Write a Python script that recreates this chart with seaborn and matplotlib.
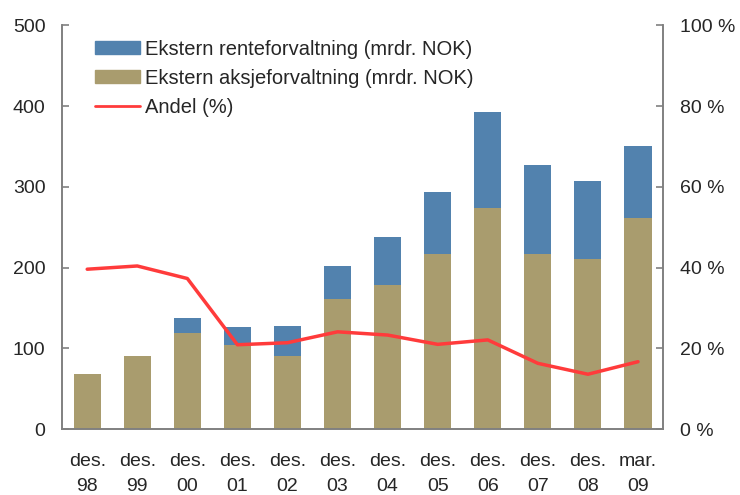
import numpy as np
import pandas as pd
import matplotlib
matplotlib.use("Agg")
import matplotlib.pyplot as plt
import seaborn as sns
from matplotlib.patches import Patch
from matplotlib.lines import Line2D
from matplotlib.ticker import FuncFormatter

# data
labels = ["des.\n98", "des.\n99", "des.\n00", "des.\n01", "des.\n02", "des.\n03",
          "des.\n04", "des.\n05", "des.\n06", "des.\n07", "des.\n08", "mar.\n09"]
aksje = [68, 90, 119, 104, 91, 161, 178, 217, 274, 217, 211, 262]
rente = [0, 0, 18, 22, 37, 41, 60, 77, 118, 110, 96, 88]
andel = [39.6, 40.4, 37.3, 20.9, 21.4, 24.1, 23.3, 21.0, 22.1, 16.3, 13.6, 16.7]

blue = "#5282AE"
khaki = "#A99C6E"
red = "#FF3B3B"
grey = "#808080"
fs = 14

sns.set_style("white")
plt.rcParams["font.family"] = ["Liberation Sans", "DejaVu Sans"]

df = pd.DataFrame({"label": labels, "aksje": aksje,
                   "total": np.array(aksje) + np.array(rente), "andel": andel})
df["pos"] = np.arange(len(df))

fig = plt.figure(figsize=(7.4, 4.95), dpi=100)
ax = fig.add_axes([0.084, 0.133, 0.812, 0.816])

sns.barplot(data=df, x="label", y="total", color=blue, width=0.54,
            saturation=1, ax=ax, order=labels, linewidth=0)
sns.barplot(data=df, x="label", y="aksje", color=khaki, width=0.54,
            saturation=1, ax=ax, order=labels, linewidth=0)

ax.set_xlim(-0.5, len(labels) - 0.5)
ax.set_ylim(0, 500)
ax.set_yticks(range(0, 501, 100))
ax.set_xlabel("")
ax.set_ylabel("")
ax.set_xticks(np.arange(len(labels)))
ax.set_xticklabels(labels, fontsize=fs, linespacing=1.6)
ax.set_xticks(np.arange(-0.5, len(labels)), minor=True)
ax.tick_params(axis="x", which="major", length=0, pad=17)
ax.tick_params(axis="x", which="minor", length=5, width=1.2, color=grey, direction="out")
ax.tick_params(axis="y", length=5, width=1.2, color=grey, direction="in",
               labelsize=fs, left=True, pad=12)

ax2 = ax.twinx()
sns.lineplot(data=df, x="pos", y="andel", color=red, linewidth=2.5, ax=ax2)
ax2.set_ylim(0, 100)
ax2.set_yticks(range(0, 101, 20))
ax2.yaxis.set_major_formatter(FuncFormatter(lambda v, p: f"{int(v)} %"))
ax2.set_ylabel("")
ax2.set_xlabel("")
ax2.tick_params(axis="y", length=5, width=1.2, color=grey, direction="in",
                labelsize=fs, right=True, pad=12)
ax2.set_xlim(-0.5, len(labels) - 0.5)

for a in (ax, ax2):
    a.spines["top"].set_visible(False)
    for s in ("left", "right", "bottom"):
        a.spines[s].set_color(grey)
        a.spines[s].set_linewidth(1.2)

handles = [Patch(color=blue), Patch(color=khaki), Line2D([], [], color=red, linewidth=2)]
names = ["Ekstern renteforvaltning (mrdr. NOK)",
         "Ekstern aksjeforvaltning (mrdr. NOK)", "Andel (%)"]
ax2.legend(handles, names, loc="upper left", bbox_to_anchor=(0.055, 0.964),
           frameon=False, fontsize=14.5, handlelength=2.2, handleheight=0.6,
           labelspacing=0.5, handletextpad=0.25, borderpad=0, borderaxespad=0)

fig.savefig("out.png", dpi=100)
